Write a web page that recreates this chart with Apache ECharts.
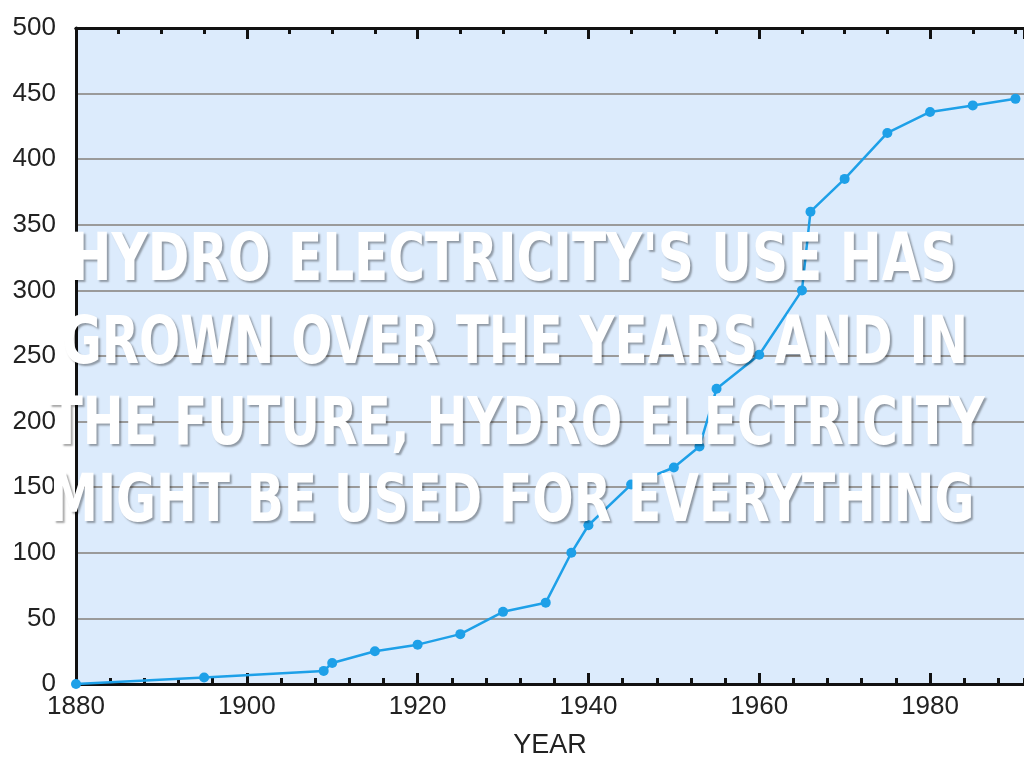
<!DOCTYPE html>
<html>
<head>
<meta charset="utf-8">
<script src="https://cdn.jsdelivr.net/npm/echarts@6/dist/echarts.min.js"></script>
<style>html,body{margin:0;padding:0;background:#fff}#c{width:1024px;height:768px}</style>
</head>
<body>
<div id="c"></div>
<script>
const years = [1880, 1895, 1909, 1910, 1915, 1920, 1925, 1930, 1935, 1938, 1940, 1945, 1950, 1953, 1955, 1960, 1965, 1966, 1970, 1975, 1980, 1985, 1990];
const values = [0, 5, 10, 16, 25, 30, 38, 55, 62, 100, 121, 152, 165, 181, 225, 251, 300, 360, 385, 420, 436, 441, 446];
const yTicks = [0, 50, 100, 150, 200, 250, 300, 350, 400, 450, 500];
const xAxisName = 'YEAR';
const overlayLines = [
  "HYDRO ELECTRICITY'S USE HAS",
  "GROWN OVER THE YEARS AND IN",
  "THE FUTURE, HYDRO ELECTRICITY",
  "MIGHT BE USED FOR EVERYTHING"
];

const chart = echarts.init(document.getElementById('c'), null, {renderer: 'canvas'});
const xMin = 1880, xMax = 1991;
const black = '#111';
const labelFont = {fontFamily: '"Liberation Sans", Arial, sans-serif', fontSize: 26, color: '#222'};

function tickAxis(pos, interval, len, extra) {
  return Object.assign({
    type: 'value', position: pos, min: xMin, max: xMax, interval: interval,
    axisLine: {show: true, lineStyle: {color: black, width: 3}},
    axisTick: {show: true, inside: true, length: len, lineStyle: {color: black, width: 3}},
    axisLabel: {show: false},
    splitLine: {show: false}
  }, extra || {});
}

// overlay text layout
const lineY = [263, 346, 427, 504];
const lineX = [513, 515, 517, 512];
const lineW = [887, 906, 935, 925];
const overlayFont = 'bold 66px "DejaVu Sans Condensed", "DejaVu Sans", sans-serif';
const mctx = document.createElement('canvas').getContext('2d');
mctx.font = overlayFont;

chart.setOption({
  animation: false,
  grid: {left: 76, right: 0, top: 28, bottom: 84, show: true, backgroundColor: '#dcebfc', borderWidth: 0},
  xAxis: [
    tickAxis('bottom', 20, 11, {
      axisLabel: Object.assign({show: true, margin: 10, showMaxLabel: false, formatter: v => String(v)}, labelFont),
      name: xAxisName, nameLocation: 'middle', nameGap: 48,
      nameTextStyle: {fontFamily: '"Liberation Sans", Arial, sans-serif', fontSize: 27, color: '#222'}
    }),
    tickAxis('bottom', 4, 6),
    tickAxis('top', 20, 11),
    tickAxis('top', 5, 6)
  ],
  yAxis: {
    type: 'value', min: yTicks[0], max: yTicks[yTicks.length - 1], interval: yTicks[1] - yTicks[0],
    axisLine: {show: true, lineStyle: {color: black, width: 3}},
    axisTick: {show: false},
    axisLabel: Object.assign({margin: 20, formatter: v => String(v)}, labelFont),
    splitLine: {show: true, lineStyle: {color: '#9a9a9a', width: 2}}
  },
  series: [{
    type: 'line',
    xAxisIndex: 0,
    data: years.map((y, i) => [y, values[i]]),
    symbol: 'circle', symbolSize: 10,
    lineStyle: {color: '#1ea0e8', width: 2.5},
    itemStyle: {color: '#1ea0e8'},
    z: 3
  }],
  graphic: overlayLines.map((t, i) => ({
    type: 'text', x: lineX[i], y: lineY[i], z: 100,
    scaleX: lineW[i] / mctx.measureText(t).width,
    style: {
      text: t, fill: '#ffffff',
      font: overlayFont,
      textAlign: 'center', textVerticalAlign: 'middle',
      textShadowColor: 'rgba(0,0,0,0.35)', textShadowOffsetX: 2, textShadowOffsetY: 2, textShadowBlur: 2
    }
  }))
});
</script>
</body>
</html>
